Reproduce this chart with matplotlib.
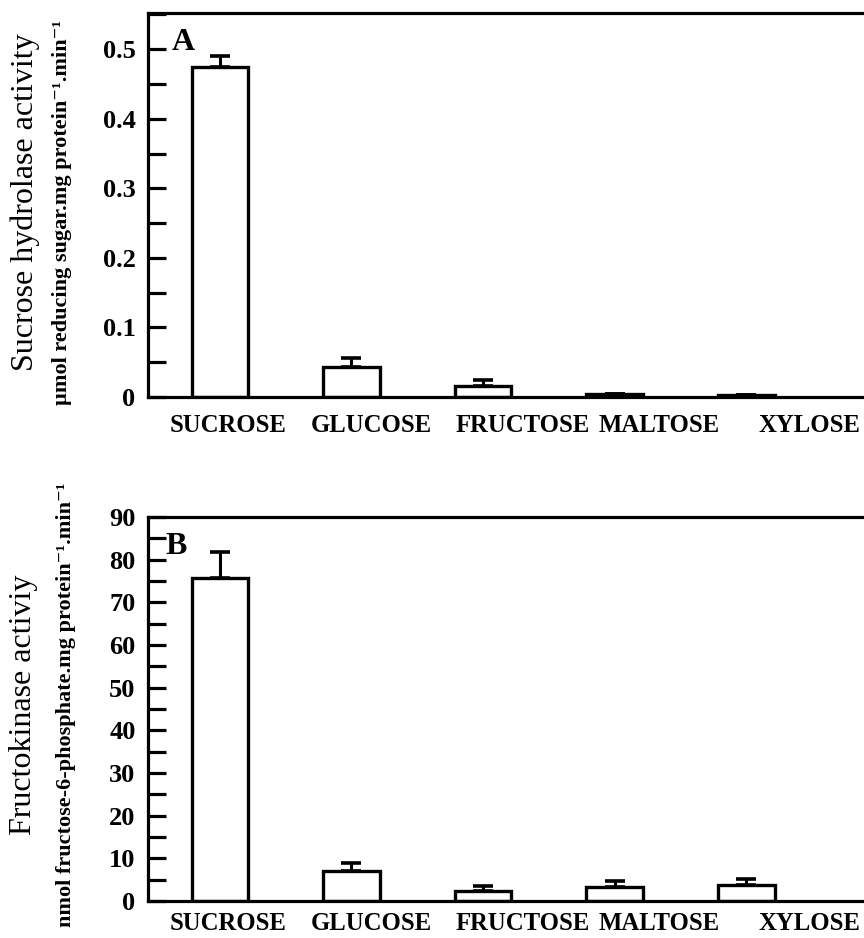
import matplotlib
matplotlib.use("Agg")
import matplotlib.pyplot as plt
import numpy as np
from matplotlib.ticker import MultipleLocator

categories = ["SUCROSE", "GLUCOSE", "FRUCTOSE", "MALTOSE", "XYLOSE"]
hydrolase = [0.475, 0.043, 0.016, 0.005, 0.003]
hydrolase_err = [0.015, 0.013, 0.008, 0.0, 0.0]
kinase = [75.7, 7.0, 2.3, 3.3, 3.7]
kinase_err = [6.1, 1.9, 1.2, 1.4, 1.5]

plt.rcParams['font.family'] = ['Liberation Serif', 'DejaVu Serif']

W, H = 864, 938
fig = plt.figure(figsize=(W / 100, H / 100), dpi=100)

# label positions (typeset in the original, not centred on the bars)
label_pos = [0.06, 1.15, 2.30, 3.34, 4.48]

def px_axes(left, top, bottom):
    return [left / W, 1 - bottom / H, 1 - left / W + 0.01, (bottom - top) / H]

lw = 2.3

def style(ax, ylim, major, minor, fmt, xpad):
    ax.set_xlim(-0.546, 4.96)
    ax.set_ylim(*ylim)
    ax.set_xticks(label_pos)
    ax.set_xticklabels(categories, fontsize=17.8, fontweight='bold')
    ax.tick_params(axis='x', length=0, pad=xpad)
    ax.yaxis.set_major_locator(MultipleLocator(major))
    ax.yaxis.set_minor_locator(MultipleLocator(minor))
    ax.tick_params(axis='y', which='both', direction='in', length=13, width=lw, pad=9)
    ax.tick_params(axis='y', which='major', labelsize=19)
    ax.yaxis.set_major_formatter(fmt)
    for lab in ax.get_yticklabels():
        lab.set_fontweight('bold')
    ax.spines['right'].set_visible(False)
    for s in ['left', 'top', 'bottom']:
        ax.spines[s].set_linewidth(lw)

def draw(ax, vals, errs):
    x = np.arange(len(categories))
    ax.bar(x, vals, width=0.43, facecolor='white', edgecolor='black', linewidth=2.4, zorder=2)
    ax.errorbar(x, vals, yerr=[np.zeros(len(vals)), errs], fmt='none', ecolor='black',
                elinewidth=2.2, capsize=7, capthick=2.6, zorder=3)

axA = fig.add_axes(px_axes(148, 13, 397))
draw(axA, hydrolase, hydrolase_err)
style(axA, (0, 0.552), 0.1, 0.05, plt.FuncFormatter(lambda v, p: '0' if abs(v) < 1e-9 else f'{v:.1f}'), 12)
for lab in axA.get_yticklabels():
    lab.set_fontweight('bold')
axA.text(172 / W, 1 - 50 / H, 'A', transform=fig.transFigure, fontsize=23, fontweight='bold',
         ha='left', va='baseline')

axB = fig.add_axes(px_axes(148, 517, 901))
draw(axB, kinase, kinase_err)
style(axB, (0, 90), 10, 5, plt.FuncFormatter(lambda v, p: f'{v:.0f}'), 8)
for lab in axB.get_yticklabels():
    lab.set_fontweight('bold')
axB.text(165 / W, 1 - 554 / H, 'B', transform=fig.transFigure, fontsize=23, fontweight='bold',
         ha='left', va='baseline')

fig.text(25 / W, 1 - 202 / H, 'Sucrose hydrolase activity', rotation=90, ha='center', va='center', fontsize=23)
fig.text(62 / W, 1 - 212 / H, 'µmol reducing sugar.mg protein\u207b\u00b9.min\u207b\u00b9',
         rotation=90, ha='center', va='center', fontsize=16, fontweight='bold')
fig.text(24 / W, 1 - 705 / H, 'Fructokinase activiy', rotation=90, ha='center', va='center', fontsize=23)
fig.text(66 / W, 1 - 705 / H, 'nmol fructose-6-phosphate.mg protein\u207b\u00b9.min\u207b\u00b9',
         rotation=90, ha='center', va='center', fontsize=16, fontweight='bold')

fig.savefig('out.png', dpi=100)
